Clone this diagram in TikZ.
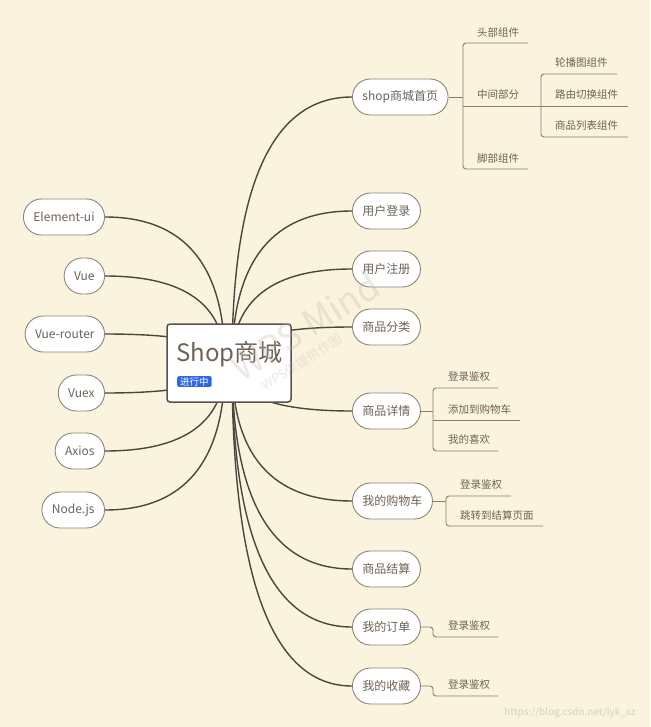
\documentclass[tikz,border=0pt]{standalone}
\usepackage{fontspec}
\setmainfont{Noto Sans CJK SC}
\usetikzlibrary{calc}
\definecolor{bgc}{HTML}{FAF3DD}
\definecolor{nodeb}{HTML}{8E847A}
\definecolor{txtc}{HTML}{6E6258}
\definecolor{linec}{HTML}{4C4640}
\definecolor{subc}{HTML}{8A7D6E}
\definecolor{rootb}{HTML}{555250}
\definecolor{tagblue}{HTML}{2F66E8}
\definecolor{wmc}{HTML}{BDB8AE}
\definecolor{csdnc}{HTML}{D6D1C7}
\pgfdeclarelayer{back}
\pgfsetlayers{back,main}
\begin{document}
\begin{tikzpicture}[x=1pt,y=-1pt,
  pill/.style={draw=nodeb, line width=0.9pt, fill=white, rounded corners=18pt, minimum height=36pt, inner xsep=10pt, inner ysep=0pt, text=txtc, font=\fontsize{12}{14}\selectfont},
  leaf/.style={text=txtc, font=\fontsize{10.5}{12}\selectfont, inner sep=0pt, anchor=west},
  conn/.style={draw=linec, line width=1.4pt, to path={.. controls ($(\tikztostart)!0.667!(\tikztostart |- \tikztotarget)$) and ($(\tikztotarget)!0.667!(\tikztostart |- \tikztotarget)$) .. (\tikztotarget)}},
  sub/.style={draw=subc, line width=0.9pt, rounded corners=3pt},
]
\useasboundingbox (0,0) rectangle (650,727);

% root
\node[draw=rootb, line width=1.5pt, fill=white, rounded corners=3pt, minimum width=124pt, minimum height=78pt, inner sep=0pt] (root) at (229,363) {};
\node[anchor=west, text=txtc, font=\fontsize{24}{28}\selectfont, inner sep=0pt] (title) at (176,354) {Shop商城};
\node[fill=tagblue, text=white, rounded corners=1.5pt, font=\fontsize{9.5}{10}\selectfont, inner xsep=3pt, inner ysep=1pt, anchor=west] (tag) at (177,381.5) {进行中};
\coordinate (cl) at (225,363);
\coordinate (cr) at (232,363);

% right main nodes
\node[pill, anchor=west] (home) at (352,97) {shop商城首页};
\node[pill, anchor=west] (login) at (352,211) {用户登录};
\node[pill, anchor=west] (reg) at (352,269) {用户注册};
\node[pill, anchor=west] (cat) at (352,327) {商品分类};
\node[pill, anchor=west] (detail) at (352,411) {商品详情};
\node[pill, anchor=west] (cart) at (352,501) {我的购物车};
\node[pill, anchor=west] (pay) at (352,569) {商品结算};
\node[pill, anchor=west] (order) at (352,627) {我的订单};
\node[pill, anchor=west] (fav) at (352,686) {我的收藏};

% left nodes
\node[pill, anchor=east] (eui) at (105,217) {Element-ui};
\node[pill, anchor=east] (vue) at (105,276) {Vue};
\node[pill, anchor=east] (vr) at (105,334) {Vue-router};
\node[pill, anchor=east] (vuex) at (105,393) {Vuex};
\node[pill, anchor=east] (axios) at (105,451) {Axios};
\node[pill, anchor=east] (nodejs) at (105,510) {Node.js};

\begin{pgfonlayer}{back}
\fill[bgc] (0,0) rectangle (650,727);
\draw[conn] (cr) to (home.west);
\draw[conn] (cr) to (login.west);
\draw[conn] (cr) to (reg.west);
\draw[conn] (cr) to (cat.west);
\draw[conn] (cr) to (detail.west);
\draw[conn] (cr) to (cart.west);
\draw[conn] (cr) to (pay.west);
\draw[conn] (cr) to (order.west);
\draw[conn] (cr) to (fav.west);
\draw[conn] (cl) to (eui.east);
\draw[conn] (cl) to (vue.east);
\draw[conn] (cl) to (vr.east);
\draw[conn] (cl) to (vuex.east);
\draw[conn] (cl) to (axios.east);
\draw[conn] (cl) to (nodejs.east);
\end{pgfonlayer}

% shop subtree
\coordinate (hb1) at (463,43);
\coordinate (hb3) at (463,169);
\coordinate (h1e) at (528,43);
\coordinate (h2e) at (541,106);
\coordinate (h3e) at (528,169);
\draw[sub] (h1e) -- (hb1) -- (hb3) -- (h3e);
\draw[sub] (home.east) -- (hb1 |- home.east);
\draw[sub] (hb1 |- h2e) -- (h2e);
\node[leaf] (h1) at (477,32) {头部组件};
\node[leaf] (h2) at (477,95) {中间部分};
\node[leaf] (h3) at (477,158) {脚部组件};
\coordinate (mb1) at (541,74);
\coordinate (mb3) at (541,137);
\coordinate (m1e) at (617,74);
\coordinate (m2e) at (628,106);
\coordinate (m3e) at (628,137);
\draw[sub] (m1e) -- (mb1) -- (mb3) -- (m3e);
\draw[sub] (h2e) -- (m2e);
\node[leaf] (m1) at (555,63) {轮播图组件};
\node[leaf] (m2) at (555,95) {路由切换组件};
\node[leaf] (m3) at (555,126) {商品列表组件};

% detail subtree
\coordinate (db1) at (433,388);
\coordinate (db3) at (433,451);
\coordinate (d1e) at (498,388);
\coordinate (d2e) at (520,420);
\coordinate (d3e) at (498,451);
\draw[sub] (d1e) -- (db1) -- (db3) -- (d3e);
\draw[sub] (detail.east) -- (db1 |- detail.east);
\draw[sub] (db1 |- d2e) -- (d2e);
\node[leaf] (d1) at (448,377) {登录鉴权};
\node[leaf] (d2) at (448,409) {添加到购物车};
\node[leaf] (d3) at (448,440) {我的喜欢};

% cart subtree
\coordinate (cb1) at (446,496);
\coordinate (cb2) at (446,526);
\coordinate (c1e) at (511,496);
\coordinate (c2e) at (543,526);
\draw[sub] (c1e) -- (cb1) -- (cb2) -- (c2e);
\draw[sub] (cart.east) -- (cb1 |- cart.east);
\node[leaf] (c1) at (460,485) {登录鉴权};
\node[leaf] (c2) at (460,515) {跳转到结算页面};

% order subtree
\coordinate (ob) at (433,637);
\coordinate (oe) at (498,637);
\draw[sub] (order.east) -- (ob |- order.east) -- (ob) -- (oe);
\node[leaf] (o1) at (448,626) {登录鉴权};

% fav subtree
\coordinate (fb) at (433,696);
\coordinate (fe) at (498,696);
\draw[sub] (fav.east) -- (fb |- fav.east) -- (fb) -- (fe);
\node[leaf] (f1) at (448,685) {登录鉴权};

% watermarks
\node[rotate=32, text=wmc, opacity=0.3, font=\fontsize{36}{40}\selectfont, inner sep=0pt] (wm1) at (305,326) {WPS Mind};
\node[rotate=32, text=wmc, opacity=0.3, font=\fontsize{13}{15}\selectfont, inner sep=0pt] (wm2) at (302,362) {WPS仅提供作图};
\node[text=csdnc, font=\fontsize{10}{12}\selectfont, inner sep=0pt] (csdn) at (570,713) {https://blog.csdn.net/lyk\_xz};
\end{tikzpicture}
\end{document}
